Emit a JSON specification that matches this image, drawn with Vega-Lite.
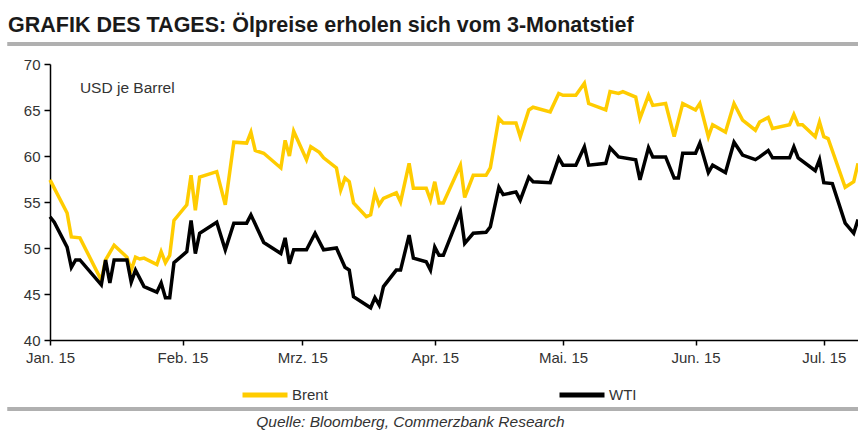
{
  "$schema": "https://vega.github.io/schema/vega-lite/v6.json",
  "autosize": {"type": "none"},
  "width": 808,
  "height": 276,
  "padding": {"left": 50, "top": 64, "right": 0, "bottom": 90},
  "background": "white",
  "config": {
    "font": "Liberation Sans",
    "view": {"stroke": null}
  },
  "title": {
    "text": "GRAFIK DES TAGES: Ölpreise erholen sich vom 3-Monatstief",
    "anchor": "start",
    "frame": "group",
    "dx": -42,
    "offset": 6,
    "fontSize": 21.5,
    "fontWeight": "bold",
    "color": "#1a1a1a",
    "font": "Liberation Sans"
  },
  "datasets": {
    "prices": [
      {"date": "2015-01-01", "series": "Brent", "price": 57.4},
      {"date": "2015-01-05", "series": "Brent", "price": 53.8},
      {"date": "2015-01-06", "series": "Brent", "price": 51.2},
      {"date": "2015-01-08", "series": "Brent", "price": 51.1},
      {"date": "2015-01-13", "series": "Brent", "price": 46.5},
      {"date": "2015-01-14", "series": "Brent", "price": 48.7},
      {"date": "2015-01-16", "series": "Brent", "price": 50.3},
      {"date": "2015-01-19", "series": "Brent", "price": 49.0},
      {"date": "2015-01-20", "series": "Brent", "price": 47.6},
      {"date": "2015-01-21", "series": "Brent", "price": 49.0},
      {"date": "2015-01-22", "series": "Brent", "price": 48.8},
      {"date": "2015-01-23", "series": "Brent", "price": 48.9},
      {"date": "2015-01-26", "series": "Brent", "price": 48.2},
      {"date": "2015-01-27", "series": "Brent", "price": 49.6},
      {"date": "2015-01-28", "series": "Brent", "price": 48.4},
      {"date": "2015-01-29", "series": "Brent", "price": 49.2},
      {"date": "2015-01-30", "series": "Brent", "price": 53.0},
      {"date": "2015-02-02", "series": "Brent", "price": 54.7},
      {"date": "2015-02-03", "series": "Brent", "price": 57.9},
      {"date": "2015-02-04", "series": "Brent", "price": 54.1},
      {"date": "2015-02-05", "series": "Brent", "price": 57.7},
      {"date": "2015-02-09", "series": "Brent", "price": 58.3},
      {"date": "2015-02-11", "series": "Brent", "price": 54.7},
      {"date": "2015-02-13", "series": "Brent", "price": 61.5},
      {"date": "2015-02-16", "series": "Brent", "price": 61.4},
      {"date": "2015-02-17", "series": "Brent", "price": 62.6},
      {"date": "2015-02-18", "series": "Brent", "price": 60.6},
      {"date": "2015-02-20", "series": "Brent", "price": 60.3},
      {"date": "2015-02-24", "series": "Brent", "price": 58.7},
      {"date": "2015-02-25", "series": "Brent", "price": 61.7},
      {"date": "2015-02-26", "series": "Brent", "price": 60.0},
      {"date": "2015-02-27", "series": "Brent", "price": 62.7},
      {"date": "2015-03-02", "series": "Brent", "price": 59.6},
      {"date": "2015-03-03", "series": "Brent", "price": 61.0},
      {"date": "2015-03-05", "series": "Brent", "price": 60.4},
      {"date": "2015-03-06", "series": "Brent", "price": 59.8},
      {"date": "2015-03-09", "series": "Brent", "price": 58.7},
      {"date": "2015-03-10", "series": "Brent", "price": 56.3},
      {"date": "2015-03-11", "series": "Brent", "price": 57.6},
      {"date": "2015-03-12", "series": "Brent", "price": 57.2},
      {"date": "2015-03-13", "series": "Brent", "price": 54.9},
      {"date": "2015-03-16", "series": "Brent", "price": 53.4},
      {"date": "2015-03-17", "series": "Brent", "price": 53.6},
      {"date": "2015-03-18", "series": "Brent", "price": 56.0},
      {"date": "2015-03-19", "series": "Brent", "price": 54.7},
      {"date": "2015-03-20", "series": "Brent", "price": 55.4},
      {"date": "2015-03-23", "series": "Brent", "price": 56.0},
      {"date": "2015-03-24", "series": "Brent", "price": 55.0},
      {"date": "2015-03-26", "series": "Brent", "price": 59.2},
      {"date": "2015-03-27", "series": "Brent", "price": 56.5},
      {"date": "2015-03-30", "series": "Brent", "price": 56.5},
      {"date": "2015-03-31", "series": "Brent", "price": 55.2},
      {"date": "2015-04-01", "series": "Brent", "price": 57.2},
      {"date": "2015-04-02", "series": "Brent", "price": 54.9},
      {"date": "2015-04-03", "series": "Brent", "price": 54.9},
      {"date": "2015-04-07", "series": "Brent", "price": 59.0},
      {"date": "2015-04-08", "series": "Brent", "price": 55.5},
      {"date": "2015-04-10", "series": "Brent", "price": 57.9},
      {"date": "2015-04-13", "series": "Brent", "price": 57.9},
      {"date": "2015-04-14", "series": "Brent", "price": 58.7},
      {"date": "2015-04-16", "series": "Brent", "price": 64.1},
      {"date": "2015-04-17", "series": "Brent", "price": 63.6},
      {"date": "2015-04-20", "series": "Brent", "price": 63.6},
      {"date": "2015-04-21", "series": "Brent", "price": 62.1},
      {"date": "2015-04-23", "series": "Brent", "price": 65.0},
      {"date": "2015-04-24", "series": "Brent", "price": 65.3},
      {"date": "2015-04-28", "series": "Brent", "price": 64.8},
      {"date": "2015-04-30", "series": "Brent", "price": 66.8},
      {"date": "2015-05-01", "series": "Brent", "price": 66.6},
      {"date": "2015-05-04", "series": "Brent", "price": 66.6},
      {"date": "2015-05-06", "series": "Brent", "price": 67.9},
      {"date": "2015-05-07", "series": "Brent", "price": 65.7},
      {"date": "2015-05-11", "series": "Brent", "price": 65.0},
      {"date": "2015-05-12", "series": "Brent", "price": 67.0},
      {"date": "2015-05-14", "series": "Brent", "price": 66.8},
      {"date": "2015-05-15", "series": "Brent", "price": 67.0},
      {"date": "2015-05-18", "series": "Brent", "price": 66.4},
      {"date": "2015-05-19", "series": "Brent", "price": 64.1},
      {"date": "2015-05-21", "series": "Brent", "price": 66.6},
      {"date": "2015-05-22", "series": "Brent", "price": 65.5},
      {"date": "2015-05-25", "series": "Brent", "price": 65.7},
      {"date": "2015-05-27", "series": "Brent", "price": 62.1},
      {"date": "2015-05-29", "series": "Brent", "price": 65.7},
      {"date": "2015-06-01", "series": "Brent", "price": 65.0},
      {"date": "2015-06-02", "series": "Brent", "price": 65.7},
      {"date": "2015-06-04", "series": "Brent", "price": 62.1},
      {"date": "2015-06-05", "series": "Brent", "price": 63.4},
      {"date": "2015-06-08", "series": "Brent", "price": 62.6},
      {"date": "2015-06-10", "series": "Brent", "price": 65.7},
      {"date": "2015-06-12", "series": "Brent", "price": 63.9},
      {"date": "2015-06-15", "series": "Brent", "price": 62.8},
      {"date": "2015-06-16", "series": "Brent", "price": 63.7},
      {"date": "2015-06-18", "series": "Brent", "price": 64.2},
      {"date": "2015-06-19", "series": "Brent", "price": 63.0},
      {"date": "2015-06-23", "series": "Brent", "price": 63.4},
      {"date": "2015-06-24", "series": "Brent", "price": 64.5},
      {"date": "2015-06-25", "series": "Brent", "price": 63.4},
      {"date": "2015-06-26", "series": "Brent", "price": 63.4},
      {"date": "2015-06-29", "series": "Brent", "price": 62.1},
      {"date": "2015-06-30", "series": "Brent", "price": 63.7},
      {"date": "2015-07-01", "series": "Brent", "price": 62.1},
      {"date": "2015-07-02", "series": "Brent", "price": 61.9},
      {"date": "2015-07-06", "series": "Brent", "price": 56.6},
      {"date": "2015-07-08", "series": "Brent", "price": 57.2},
      {"date": "2015-07-09", "series": "Brent", "price": 59.2},
      {"date": "2015-01-01", "series": "WTI", "price": 53.4},
      {"date": "2015-01-02", "series": "WTI", "price": 52.8},
      {"date": "2015-01-05", "series": "WTI", "price": 50.1},
      {"date": "2015-01-06", "series": "WTI", "price": 47.9},
      {"date": "2015-01-07", "series": "WTI", "price": 48.7},
      {"date": "2015-01-08", "series": "WTI", "price": 48.7},
      {"date": "2015-01-13", "series": "WTI", "price": 46.0},
      {"date": "2015-01-14", "series": "WTI", "price": 48.7},
      {"date": "2015-01-15", "series": "WTI", "price": 46.2},
      {"date": "2015-01-16", "series": "WTI", "price": 48.7},
      {"date": "2015-01-19", "series": "WTI", "price": 48.7},
      {"date": "2015-01-20", "series": "WTI", "price": 46.3},
      {"date": "2015-01-21", "series": "WTI", "price": 47.6},
      {"date": "2015-01-23", "series": "WTI", "price": 45.8},
      {"date": "2015-01-26", "series": "WTI", "price": 45.2},
      {"date": "2015-01-27", "series": "WTI", "price": 46.2},
      {"date": "2015-01-28", "series": "WTI", "price": 44.6},
      {"date": "2015-01-29", "series": "WTI", "price": 44.6},
      {"date": "2015-01-30", "series": "WTI", "price": 48.4},
      {"date": "2015-02-02", "series": "WTI", "price": 49.6},
      {"date": "2015-02-03", "series": "WTI", "price": 53.0},
      {"date": "2015-02-04", "series": "WTI", "price": 49.4},
      {"date": "2015-02-05", "series": "WTI", "price": 51.6},
      {"date": "2015-02-09", "series": "WTI", "price": 52.8},
      {"date": "2015-02-11", "series": "WTI", "price": 49.8},
      {"date": "2015-02-13", "series": "WTI", "price": 52.7},
      {"date": "2015-02-16", "series": "WTI", "price": 52.7},
      {"date": "2015-02-17", "series": "WTI", "price": 53.6},
      {"date": "2015-02-20", "series": "WTI", "price": 50.6},
      {"date": "2015-02-24", "series": "WTI", "price": 49.4},
      {"date": "2015-02-25", "series": "WTI", "price": 51.1},
      {"date": "2015-02-26", "series": "WTI", "price": 48.3},
      {"date": "2015-02-27", "series": "WTI", "price": 49.8},
      {"date": "2015-03-02", "series": "WTI", "price": 49.8},
      {"date": "2015-03-04", "series": "WTI", "price": 51.6},
      {"date": "2015-03-06", "series": "WTI", "price": 49.8},
      {"date": "2015-03-09", "series": "WTI", "price": 50.0},
      {"date": "2015-03-11", "series": "WTI", "price": 47.9},
      {"date": "2015-03-12", "series": "WTI", "price": 47.6},
      {"date": "2015-03-13", "series": "WTI", "price": 44.7},
      {"date": "2015-03-17", "series": "WTI", "price": 43.5},
      {"date": "2015-03-18", "series": "WTI", "price": 44.6},
      {"date": "2015-03-19", "series": "WTI", "price": 43.8},
      {"date": "2015-03-20", "series": "WTI", "price": 45.8},
      {"date": "2015-03-23", "series": "WTI", "price": 47.6},
      {"date": "2015-03-24", "series": "WTI", "price": 47.6},
      {"date": "2015-03-26", "series": "WTI", "price": 51.4},
      {"date": "2015-03-27", "series": "WTI", "price": 48.9},
      {"date": "2015-03-30", "series": "WTI", "price": 48.5},
      {"date": "2015-03-31", "series": "WTI", "price": 47.6},
      {"date": "2015-04-01", "series": "WTI", "price": 50.1},
      {"date": "2015-04-02", "series": "WTI", "price": 49.2},
      {"date": "2015-04-03", "series": "WTI", "price": 49.2},
      {"date": "2015-04-07", "series": "WTI", "price": 53.9},
      {"date": "2015-04-08", "series": "WTI", "price": 50.5},
      {"date": "2015-04-10", "series": "WTI", "price": 51.6},
      {"date": "2015-04-13", "series": "WTI", "price": 51.7},
      {"date": "2015-04-14", "series": "WTI", "price": 52.3},
      {"date": "2015-04-16", "series": "WTI", "price": 56.6},
      {"date": "2015-04-17", "series": "WTI", "price": 55.8},
      {"date": "2015-04-20", "series": "WTI", "price": 56.1},
      {"date": "2015-04-21", "series": "WTI", "price": 55.2},
      {"date": "2015-04-23", "series": "WTI", "price": 57.7},
      {"date": "2015-04-24", "series": "WTI", "price": 57.2},
      {"date": "2015-04-28", "series": "WTI", "price": 57.1},
      {"date": "2015-04-30", "series": "WTI", "price": 59.8},
      {"date": "2015-05-01", "series": "WTI", "price": 59.0},
      {"date": "2015-05-04", "series": "WTI", "price": 59.0},
      {"date": "2015-05-06", "series": "WTI", "price": 61.0},
      {"date": "2015-05-07", "series": "WTI", "price": 59.0},
      {"date": "2015-05-11", "series": "WTI", "price": 59.2},
      {"date": "2015-05-12", "series": "WTI", "price": 60.9},
      {"date": "2015-05-14", "series": "WTI", "price": 59.9},
      {"date": "2015-05-18", "series": "WTI", "price": 59.6},
      {"date": "2015-05-19", "series": "WTI", "price": 57.4},
      {"date": "2015-05-21", "series": "WTI", "price": 60.9},
      {"date": "2015-05-22", "series": "WTI", "price": 59.9},
      {"date": "2015-05-25", "series": "WTI", "price": 59.9},
      {"date": "2015-05-27", "series": "WTI", "price": 57.6},
      {"date": "2015-05-28", "series": "WTI", "price": 57.6},
      {"date": "2015-05-29", "series": "WTI", "price": 60.3},
      {"date": "2015-06-01", "series": "WTI", "price": 60.3},
      {"date": "2015-06-02", "series": "WTI", "price": 61.4},
      {"date": "2015-06-04", "series": "WTI", "price": 58.2},
      {"date": "2015-06-05", "series": "WTI", "price": 59.0},
      {"date": "2015-06-08", "series": "WTI", "price": 58.2},
      {"date": "2015-06-10", "series": "WTI", "price": 61.5},
      {"date": "2015-06-12", "series": "WTI", "price": 60.1},
      {"date": "2015-06-15", "series": "WTI", "price": 59.6},
      {"date": "2015-06-16", "series": "WTI", "price": 59.9},
      {"date": "2015-06-18", "series": "WTI", "price": 60.6},
      {"date": "2015-06-19", "series": "WTI", "price": 59.8},
      {"date": "2015-06-23", "series": "WTI", "price": 59.8},
      {"date": "2015-06-24", "series": "WTI", "price": 61.0},
      {"date": "2015-06-25", "series": "WTI", "price": 59.8},
      {"date": "2015-06-29", "series": "WTI", "price": 58.4},
      {"date": "2015-06-30", "series": "WTI", "price": 59.6},
      {"date": "2015-07-01", "series": "WTI", "price": 57.1},
      {"date": "2015-07-03", "series": "WTI", "price": 57.0},
      {"date": "2015-07-06", "series": "WTI", "price": 52.7},
      {"date": "2015-07-08", "series": "WTI", "price": 51.6},
      {"date": "2015-07-09", "series": "WTI", "price": 53.1}
    ],
    "one": [{"note": "USD je Barrel"}]
  },
  "data": {"name": "prices"},
  "layer": [
    {
      "data": {"name": "one"},
      "mark": {"type": "rule", "color": "#b0b0b0", "strokeWidth": 4},
      "encoding": {
        "x": {"datum": {"year": 2014, "month": 12, "date": 22}, "type": "temporal"},
        "x2": {"datum": {"year": 2015, "month": 7, "date": 9}},
        "y": {"datum": 72.17, "type": "quantitative"}
      }
    },
    {
      "data": {"name": "one"},
      "mark": {"type": "rule", "color": "#b0b0b0", "strokeWidth": 4},
      "encoding": {
        "x": {"datum": {"year": 2014, "month": 12, "date": 22}, "type": "temporal"},
        "x2": {"datum": {"year": 2015, "month": 7, "date": 9}},
        "y": {"datum": 32.5, "type": "quantitative"}
      }
    },
    {
      "data": {"name": "one"},
      "mark": {"type": "text", "align": "left", "baseline": "middle", "fontSize": 15.5, "color": "#333333"},
      "encoding": {
        "text": {"field": "note"},
        "x": {"datum": {"year": 2015, "month": 1, "date": 8}, "type": "temporal"},
        "y": {"datum": 67.4, "type": "quantitative"}
      }
    },
    {
      "mark": {"type": "line", "strokeWidth": 3.5, "strokeJoin": "miter"},
      "encoding": {
        "x": {
          "field": "date",
          "type": "temporal",
          "scale": {"domain": [{"year": 2015, "month": 1, "date": 1}, {"year": 2015, "month": 7, "date": 9}], "nice": false},
          "axis": {
            "title": "Quelle: Bloomberg, Commerzbank Research",
            "titleFontStyle": "italic",
            "titleFontWeight": "normal",
            "titleFontSize": 15.5,
            "titleColor": "#333333",
            "titleAnchor": "start",
            "titleAlign": "center",
            "titleBaseline": "top",
            "titleX": 360,
            "titleY": 74,
            "tickCount": {"interval": "month", "step": 1},
            "labelExpr": "['Jan.','Feb.','Mrz.','Apr.','Mai.','Jun.','Jul.','Aug.'][month(datum.value)] + ' 15'",
            "labelFlush": false,
            "labelOverlap": false,
            "labelFontSize": 15,
            "labelColor": "#333333",
            "labelPadding": 5,
            "tickSize": 5,
            "tickColor": "#000000",
            "tickWidth": 1.5,
            "domainColor": "#000000",
            "domainWidth": 1.5,
            "grid": false
          }
        },
        "y": {
          "field": "price",
          "type": "quantitative",
          "scale": {"domain": [40, 70], "nice": false, "zero": false},
          "axis": {
            "title": null,
            "values": [40, 45, 50, 55, 60, 65, 70],
            "labelFontSize": 15,
            "labelColor": "#333333",
            "labelPadding": 4,
            "tickSize": 6,
            "tickColor": "#000000",
            "tickWidth": 1.5,
            "domainColor": "#000000",
            "domainWidth": 1.5,
            "grid": false
          }
        },
        "color": {
          "field": "series",
          "type": "nominal",
          "scale": {"domain": ["Brent", "WTI"], "range": ["#FFCC00", "#000000"]},
          "legend": {
            "title": null,
            "orient": "none",
            "legendX": 190,
            "legendY": 306,
            "direction": "horizontal",
            "columns": 2,
            "columnPadding": 221,
            "symbolType": "stroke",
            "symbolSize": 2025,
            "symbolStrokeWidth": 5,
            "labelFontSize": 15,
            "labelColor": "#333333",
            "labelOffset": 2
          }
        }
      }
    }
  ]
}
